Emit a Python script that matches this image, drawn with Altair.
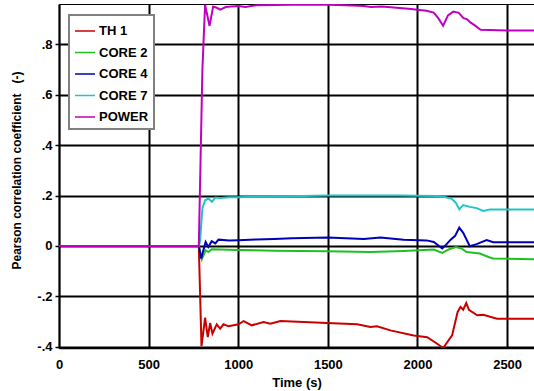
import altair as alt
import pandas as pd

series_names = ["TH 1", "CORE 2", "CORE 4", "CORE 7", "POWER"]
series_colors = ["#c80000", "#20c020", "#0000b4", "#20c4c4", "#c000c0"]

th1_t = [0, 780, 795, 815, 830, 843, 856, 880, 899, 918, 946, 1002, 1030, 1076, 1141, 1179, 1235, 1365, 1496,
         1664, 1737, 1774, 1849, 1979, 2054, 2110, 2143, 2193, 2224, 2240, 2255, 2272, 2287, 2333, 2367, 2444, 2650]
th1_v = [0, 0, -0.398, -0.285, -0.362, -0.306, -0.348, -0.311, -0.328, -0.311, -0.319, -0.311, -0.298, -0.315,
         -0.302, -0.309, -0.298, -0.302, -0.306, -0.311, -0.322, -0.319, -0.335, -0.355, -0.362, -0.388, -0.405,
         -0.355, -0.262, -0.242, -0.253, -0.227, -0.254, -0.275, -0.273, -0.289, -0.289]

core2_t = [0, 780, 797, 818, 833, 852, 900, 1000, 1200, 1500, 1737, 1923, 2091, 2138, 2180, 2214, 2245, 2274,
           2348, 2400, 2423, 2650]
core2_v = [0, 0, -0.053, -0.017, -0.024, -0.013, -0.014, -0.016, -0.019, -0.021, -0.024, -0.020, -0.014, -0.028,
           -0.012, -0.004, -0.010, -0.024, -0.030, -0.045, -0.050, -0.053]

core4_t = [0, 780, 793, 818, 833, 852, 872, 890, 950, 1000, 1100, 1200, 1300, 1500, 1700, 1793, 1923, 2050, 2091,
           2138, 2160, 2185, 2210, 2233, 2255, 2292, 2330, 2386, 2423, 2650]
core4_v = [0, 0, -0.050, 0.016, -0.004, 0.019, 0.010, 0.025, 0.022, 0.023, 0.026, 0.028, 0.030, 0.033, 0.028,
           0.033, 0.025, 0.022, 0.016, -0.010, 0.005, 0.025, 0.040, 0.073, 0.052, -0.001, 0.007, 0.023, 0.015, 0.015]

core7_t = [0, 780, 787, 800, 815, 834, 853, 872, 900, 950, 1000, 1100, 1200, 1300, 1500, 1737, 1900, 2000, 2107,
           2150, 2190, 2215, 2233, 2255, 2292, 2330, 2367, 2405, 2650]
core7_v = [0, 0, 0.02, 0.15, 0.181, 0.188, 0.175, 0.192, 0.190, 0.193, 0.193, 0.195, 0.196, 0.197, 0.200, 0.200,
           0.200, 0.199, 0.198, 0.194, 0.188, 0.170, 0.145, 0.162, 0.155, 0.150, 0.139, 0.145, 0.145]

power_t = [0, 780, 800, 815, 840, 860, 880, 900, 930, 960, 1000, 1040, 1100, 1200, 1300, 1400, 1500, 1600, 1700,
           1740, 1800, 1900, 1950, 2000, 2050, 2090, 2115, 2143, 2170, 2200, 2230, 2257, 2275, 2295, 2320, 2352,
           2400, 2500, 2650]
power_v = [0, 0, 0.70, 0.957, 0.873, 0.950, 0.945, 0.938, 0.948, 0.950, 0.952, 0.948, 0.955, 0.956, 0.957, 0.957,
           0.957, 0.955, 0.952, 0.948, 0.950, 0.944, 0.941, 0.937, 0.933, 0.926, 0.905, 0.874, 0.915, 0.930, 0.925,
           0.904, 0.900, 0.887, 0.875, 0.858, 0.857, 0.855, 0.855]

x_ticks = [0, 500, 1000, 1500, 2000, 2500]
y_ticks = [-0.4, -0.2, 0, 0.2, 0.4, 0.6, 0.8]

rows = []
for name, ts, vs in [("TH 1", th1_t, th1_v), ("CORE 2", core2_t, core2_v), ("CORE 4", core4_t, core4_v),
                     ("CORE 7", core7_t, core7_v), ("POWER", power_t, power_v)]:
    for i, (t, v) in enumerate(zip(ts, vs)):
        rows.append({"series": name, "t": t, "v": v, "i": i, "k": series_names.index(name)})
df = pd.DataFrame(rows)

FONT = "Liberation Sans"

chart = alt.Chart(df).mark_line(strokeWidth=2, clip=True).encode(
    x=alt.X("t:Q", scale=alt.Scale(domain=[0, 2650], nice=False, zero=False),
            axis=alt.Axis(values=x_ticks, format="d", title="Time (s)", titlePadding=5, labelPadding=10,
                          ticks=False, labelFlush=False, titleFontSize=13)),
    y=alt.Y("v:Q", scale=alt.Scale(domain=[-0.405, 0.96], nice=False, zero=False),
            axis=alt.Axis(values=y_ticks, title="Pearson correlation coefficient\u00a0\u00a0\u00a0(-)",
                          labelExpr="(datum.value < 0 ? '-' : '') + (datum.value == 0 ? '0' : replace(format(abs(datum.value), '.1f'), '0.', '.'))",
                          ticks=True, tickSize=4, tickColor="black", tickWidth=1.5,
                          labelPadding=3, titlePadding=13, labelFlush=False, titleFontSize=12, titleY=166)),
    color=alt.Color("series:N", scale=alt.Scale(domain=series_names, range=series_colors),
                    legend=alt.Legend(title=None, orient="none", legendX=10, legendY=11,
                                      symbolType="stroke", symbolSize=400, symbolStrokeWidth=1.5,
                                      labelFontSize=13, labelFont=FONT, labelFontWeight="bold",
                                      labelColor="black", rowPadding=3.5, padding=5, labelOffset=3,
                                      fillColor="white", strokeColor="#808080")),
    detail="k:O",
    order="i:Q",
).properties(
    width=475, height=344, autosize="none",
    padding={"left": 59, "top": 4, "right": 0, "bottom": 43},
).configure_view(
    stroke="black", strokeWidth=1
).configure_axis(
    domainColor="black", domainWidth=1.5, gridColor="black", gridWidth=2, gridOpacity=1,
    labelFont=FONT, labelFontSize=13, labelFontWeight="bold", labelColor="black",
    titleFont=FONT, titleFontWeight="bold", titleColor="black",
).configure_legend(strokeWidth=2)

chart.save("out.html", embed_options={"renderer": "svg", "actions": False})
